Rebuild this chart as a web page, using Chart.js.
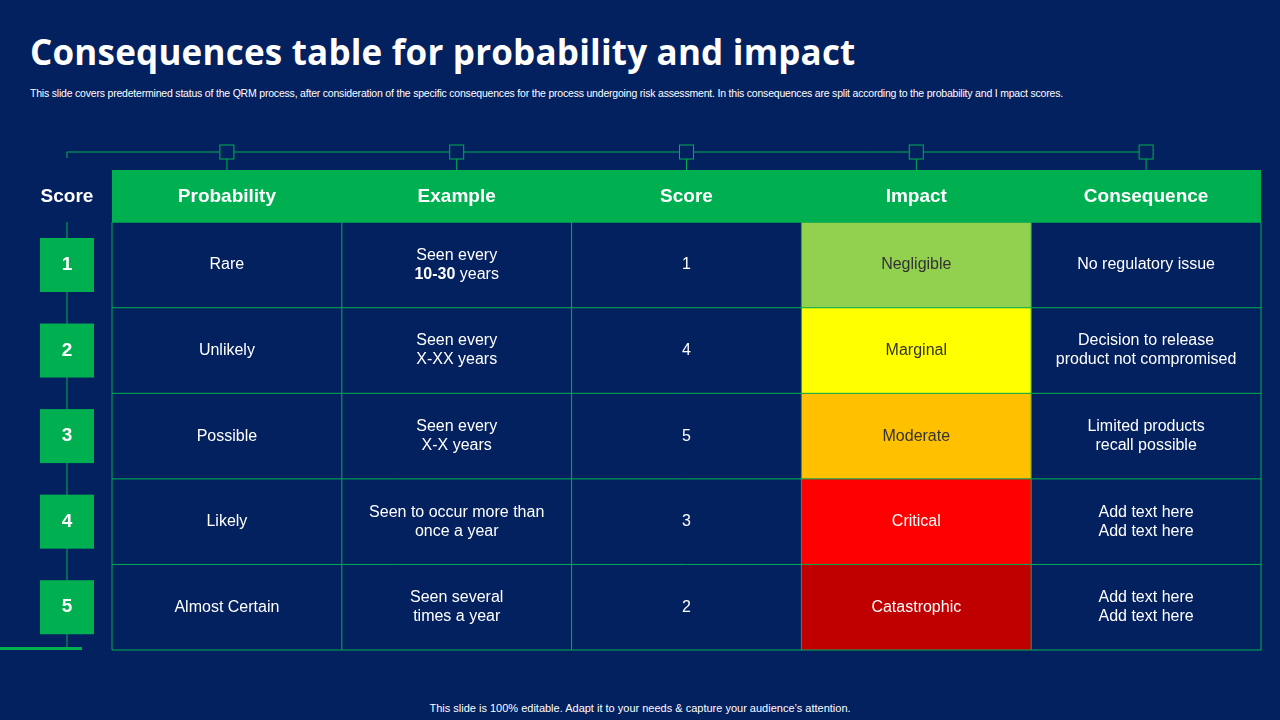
<!DOCTYPE html>
<html><head><meta charset="utf-8">
<script src="https://cdn.jsdelivr.net/npm/chart.js@4"></script>
<style>
html,body{margin:0;padding:0;background:#03205f;width:1280px;height:720px;overflow:hidden;font-family:"Liberation Sans",Arial,sans-serif;color:#fff}
#t{position:absolute;left:30px;top:28px;font:700 35px "Open Sans",sans-serif;letter-spacing:0.2px}
#s{position:absolute;left:30px;top:86px;width:1170px;font-size:10.5px;line-height:14px;letter-spacing:-0.2px}
#f{position:absolute;left:0;width:1280px;top:702px;text-align:center;font-size:11px}
canvas{position:absolute;left:0;top:0}
</style></head><body>
<div id="t">Consequences table for probability and impact</div>
<div id="s">This slide covers predetermined status of the QRM process, after consideration of the specific consequences for the process undergoing risk assessment. In this consequences are split according to the probability and I mpact scores.</div>
<div id="f">This slide is 100% editable. Adapt it to your needs &amp; capture your audience’s attention.</div>
<canvas id="c" width="1280" height="720"></canvas>
<script>
const headers=["Probability","Example","Score","Impact","Consequence"];
const scores=["1","2","3","4","5"];
const probability=["Rare","Unlikely","Possible","Likely","Almost Certain"];
const example=[["Seen every","**10-30** years"],["Seen every","X-XX years"],["Seen every","X-X years"],["Seen to occur more than","once a year"],["Seen several","times a year"]];
const scoreValues=[1,4,5,3,2];
const impact=["Negligible","Marginal","Moderate","Critical","Catastrophic"];
const impactColors=["#92d050","#ffff00","#ffc000","#ff0000","#c00000"];
const impactText=["#333","#333","#333","#fff","#fff"];
const consequence=[["No regulatory issue"],["Decision to release","product not compromised"],["Limited products","recall possible"],["Add text here","Add text here"],["Add text here","Add text here"]];
const G="#00b050";
function drawLines(ctx,lines,cx,cy,color){
  ctx.fillStyle=color;ctx.textBaseline="middle";
  const lh=19,st=cy-(lines.length-1)*lh/2;
  lines.forEach((ln,i)=>{
    const parts=ln.split("**");let w=0;
    parts.forEach((p,j)=>{ctx.font=(j%2?"700 ":"")+"16px 'Liberation Sans',Arial";w+=ctx.measureText(p).width;});
    let x=cx-w/2;ctx.textAlign="left";
    parts.forEach((p,j)=>{ctx.font=(j%2?"700 ":"")+"16px 'Liberation Sans',Arial";ctx.fillText(p,x,st+i*lh);x+=ctx.measureText(p).width;});
  });
}
const tablePlugin={id:"tbl",afterDraw(ch){
  const ctx=ch.ctx,xs=ch.scales.x,ys=ch.scales.y;
  const X=v=>xs.getPixelForValue(v),Y=v=>ys.getPixelForValue(v);
  ctx.save();
  // header
  ctx.fillStyle=G;ctx.fillRect(X(0),Y(-0.61),X(5)-X(0),Y(0)-Y(-0.61));
  ctx.font="700 19px 'Liberation Sans',Arial";ctx.fillStyle="#fff";ctx.textAlign="center";ctx.textBaseline="middle";
  headers.forEach((h,i)=>ctx.fillText(h,X(i+0.5),Y(-0.3)));
  // impact cells
  impact.forEach((t,r)=>{ctx.fillStyle=impactColors[r];ctx.fillRect(X(3),Y(r),X(4)-X(3),Y(r+1)-Y(r));});
  // grid
  ctx.strokeStyle=G;ctx.lineWidth=1;
  for(let r=0;r<=5;r++){ctx.beginPath();ctx.moveTo(X(0),Y(r));ctx.lineTo(X(5),Y(r));ctx.stroke();}
  for(let c=0;c<=5;c++){ctx.beginPath();ctx.moveTo(X(c),Y(0));ctx.lineTo(X(c),Y(5));ctx.stroke();}
  // texts
  for(let r=0;r<5;r++){
    const cy=Y(r+0.5);
    drawLines(ctx,[probability[r]],X(0.5),cy,"#fff");
    drawLines(ctx,example[r],X(1.5),cy,"#fff");
    drawLines(ctx,[String(scoreValues[r])],X(2.5),cy,"#fff");
    drawLines(ctx,[impact[r]],X(3.5),cy,impactText[r]);
    drawLines(ctx,consequence[r],X(4.5),cy,"#fff");
  }
  // top connector
  const ty=152;
  ctx.beginPath();ctx.moveTo(67,ty+6);ctx.lineTo(67,ty);ctx.lineTo(X(4.5)-7,ty);ctx.stroke();
  for(let c=0;c<5;c++){
    const cx=X(c+0.5);
    ctx.fillStyle="#03205f";ctx.fillRect(cx-7,ty-7,14,14);ctx.strokeRect(cx-7,ty-7,14,14);
    ctx.beginPath();ctx.moveTo(cx,ty+7);ctx.lineTo(cx,Y(-0.61));ctx.stroke();
  }
  // left score column
  ctx.beginPath();ctx.moveTo(67,222);ctx.lineTo(67,Y(5));ctx.stroke();
  ctx.font="700 19px 'Liberation Sans',Arial";ctx.fillStyle="#fff";ctx.textAlign="center";
  ctx.fillText("Score",67,Y(-0.3));
  scores.forEach((s,r)=>{const cy=Y(r+0.5);ctx.fillStyle=G;ctx.fillRect(40,cy-27,54,54);
    ctx.fillStyle="#fff";ctx.font="700 19px 'Liberation Sans',Arial";ctx.fillText(s,67,cy);});
  ctx.fillStyle=G;ctx.fillRect(0,Y(5)-3,82,3);
  ctx.restore();
}};
new Chart(document.getElementById("c"),{type:"scatter",data:{datasets:[{data:[]}]},
 options:{responsive:false,animation:false,events:[],
  layout:{padding:{left:112,right:19,top:170,bottom:70}},
  plugins:{legend:{display:false},tooltip:{enabled:false}},
  scales:{x:{type:"linear",min:0,max:5,display:false},y:{type:"linear",min:-0.61,max:5,reverse:true,display:false}}},
 plugins:[tablePlugin]});
</script></body></html>
